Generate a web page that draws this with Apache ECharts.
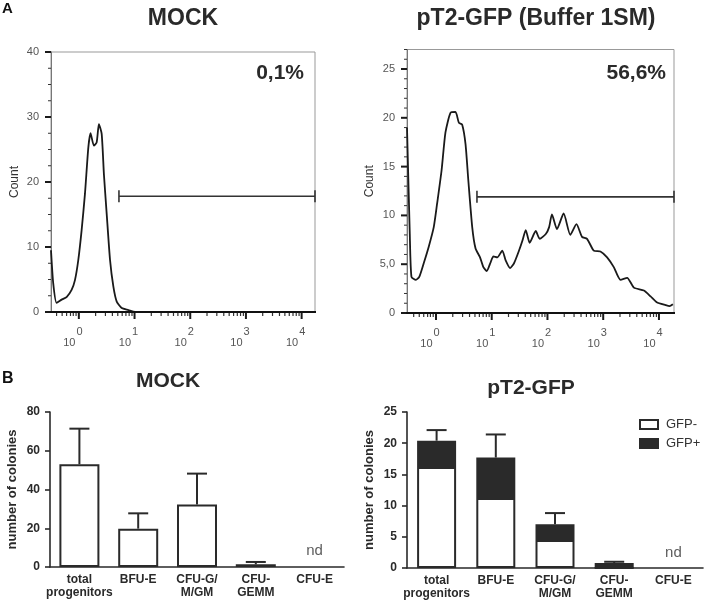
<!DOCTYPE html>
<html>
<head>
<meta charset="utf-8">
<script src="https://cdn.jsdelivr.net/npm/echarts@6/dist/echarts.min.js"></script>
<style>html,body{margin:0;padding:0;background:#fff;}#c{width:708px;height:605px;}</style>
</head>
<body>
<div id="c"></div>
<script>
// ---- Data ----
// Histogram MOCK: [log decade, count]
const mockHist = [
  [-0.50, 9.5], [-0.46, 4.4], [-0.40, 1.4], [-0.31, 1.9], [-0.22, 2.3], [-0.13, 3.4],
  [-0.07, 4.9], [-0.01, 8.0], [0.05, 12.6], [0.11, 18.2], [0.17, 25.3], [0.21, 27.5],
  [0.27, 25.6], [0.32, 26.1], [0.36, 28.9], [0.41, 27.4], [0.45, 21.2], [0.50, 15.1],
  [0.56, 8.0], [0.62, 3.9], [0.68, 1.6], [0.77, 0.6], [0.89, 0.3], [1.01, 0.0], [4.24, 0.0]
];
// Histogram pT2-GFP: [log decade, count]
const gfpHist = [
  [-0.52, 19.0], [-0.47, 8.1], [-0.44, 3.7], [-0.36, 3.4], [-0.30, 3.7], [-0.22, 5.1],
  [-0.13, 6.8], [-0.04, 8.8], [0.02, 11.2], [0.10, 14.6], [0.17, 18.5], [0.26, 20.5],
  [0.35, 20.6], [0.41, 19.5], [0.47, 19.3], [0.53, 17.3], [0.58, 13.6], [0.65, 8.8],
  [0.71, 6.6], [0.79, 5.7], [0.85, 4.7], [0.91, 4.3], [0.98, 5.2], [1.03, 5.8],
  [1.10, 5.7], [1.19, 6.4], [1.25, 5.4], [1.33, 4.6], [1.40, 5.1], [1.49, 6.4],
  [1.55, 7.4], [1.61, 8.5], [1.68, 7.2], [1.79, 8.4], [1.86, 7.6], [1.97, 8.1],
  [2.03, 8.8], [2.08, 10.1], [2.17, 8.6], [2.29, 10.2], [2.41, 8.0], [2.52, 9.1],
  [2.62, 7.8], [2.71, 7.6], [2.83, 6.4], [2.95, 6.3], [3.07, 5.7], [3.19, 4.7],
  [3.31, 3.4], [3.43, 3.6], [3.55, 2.6], [3.73, 2.3], [3.85, 1.7], [3.96, 1.1],
  [4.12, 0.8], [4.19, 0.7], [4.25, 0.9]
];
// Gates: [start decade, end decade, count level]
const mockGate = [0.72, 4.24, 17.8];
const gfpGate = [0.735, 4.27, 11.9];
const mockPct = '0,1%';
const gfpPct = '56,6%';
const decadeTicks = [0, 1, 2, 3, 4];
const mockYTicks = [0, 10, 20, 30, 40];
const gfpYTicks = [0, 5, 10, 15, 20, 25];

// Colony assays
const categories = ['total\nprogenitors', 'BFU-E', 'CFU-G/\nM/GM', 'CFU-\nGEMM', 'CFU-E'];
const mockColonies = [53.0, 19.8, 32.2, 1.4, '-'];
const mockErrTop = [71.4, 27.7, 48.2, 2.6, null];
const gfpNeg = [16.2, 11.2, 4.5, 0, '-'];
const gfpPos = [4.2, 6.5, 2.5, 0.8, '-'];
const gfpErrTop = [22.1, 21.4, 8.8, 1.0, null];
const ndIndex = 4;

// ---- Helpers ----
const FONT = "'Liberation Sans', Arial, Helvetica, sans-serif";

// minor log ticks (positions of 2..9 x 10^n, plus the sub-decade region)
const minorX = [-0.4, -0.3, -0.22, -0.15, -0.1, -0.05];
for (let n = 0; n < 5; n++) for (let k = 2; k <= 9; k++) {
  const v = n + Math.log10(k);
  if (v < 4.23) minorX.push(+v.toFixed(4));
}
const mockMinorY = [];
for (let v = 2.5; v < 40; v += 2.5) if (v % 10) mockMinorY.push(v);
const gfpMinorY = [];
for (let v = 1; v <= 27; v++) if (v % 5) gfpMinorY.push(v);

// tick items: [x, y, kind] kind: 0 x-major, 1 x-minor, 2 y-major, 3 y-minor
function tickData(xMaj, xMin, yMaj, yMin) {
  return [].concat(
    xMaj.map(v => [v, 0, 0]), xMin.map(v => [v, 0, 1]),
    yMaj.map(v => [0, v, 2]), yMin.map(v => [0, v, 3]));
}
function tickRender(params, api) {
  const cs = params.coordSys;
  const kind = api.value(2);
  const bottom = cs.y + cs.height;
  if (kind < 2) {
    const x = api.coord([api.value(0), 0])[0];
    const len = kind === 0 ? 7 : 4;
    return { type: 'line', shape: { x1: x, y1: bottom, x2: x, y2: bottom + len },
      style: { stroke: kind === 0 ? '#1a1a1a' : '#333', lineWidth: kind === 0 ? 2 : 1.2 } };
  }
  const y = api.coord([0, api.value(1)])[1];
  const len = kind === 2 ? 6 : 3;
  return { type: 'line', shape: { x1: cs.x, y1: y, x2: cs.x - len, y2: y },
    style: { stroke: kind === 2 ? '#1a1a1a' : '#333', lineWidth: kind === 2 ? 2 : 1 } };
}
function baseRender(params, api) {
  const cs = params.coordSys;
  const b = cs.y + cs.height;
  return { type: 'line', shape: { x1: cs.x - 1, y1: b, x2: cs.x + cs.width + 1, y2: b },
    style: { stroke: '#111', lineWidth: 2 } };
}

function histXAxis(grid, min, max) {
  return {
    type: 'value', gridIndex: grid, min: min, max: max, position: 'bottom',
    axisLine: { show: true, onZero: false, lineStyle: { color: '#111', width: 2 } },
    axisTick: { show: false },
    axisLabel: {
      show: true, customValues: decadeTicks, margin: 14,
      formatter: v => '{b|10}{s|' + v + '}{sp| }',
      rich: {
        b: { fontSize: 11, fontFamily: FONT, color: '#555', lineHeight: 22, verticalAlign: 'bottom' },
        s: { fontSize: 11, fontFamily: FONT, color: '#555', lineHeight: 11, verticalAlign: 'top', padding: [0, 0, 0, 1] },
        sp: { width: 12, fontSize: 11 }
      }
    },
    splitLine: { show: false }
  };
}
function histYAxis(grid, max, ticks, fmt) {
  return {
    type: 'value', gridIndex: grid, min: 0, max: max, position: 'left',
    name: 'Count', nameLocation: 'middle', nameGap: 30, nameRotate: 90,
    nameTextStyle: { fontSize: 12, fontFamily: FONT, color: '#333' },
    axisLine: { show: true, onZero: false, lineStyle: { color: '#777', width: 1 } },
    axisTick: { show: false },
    axisLabel: { customValues: ticks, margin: 12, fontSize: 11, fontFamily: FONT, color: '#555', formatter: fmt },
    splitLine: { show: false }
  };
}

function gateRender(params, api) {
  const a = api.coord([api.value(0), api.value(2)]);
  const b = api.coord([api.value(1), api.value(2)]);
  const st = { stroke: '#333', lineWidth: 1.6 };
  return {
    type: 'group', children: [
      { type: 'line', shape: { x1: a[0], y1: a[1], x2: b[0], y2: b[1] }, style: st },
      { type: 'line', shape: { x1: a[0], y1: a[1] - 6, x2: a[0], y2: a[1] + 6 }, style: st },
      { type: 'line', shape: { x1: b[0], y1: b[1] - 6, x2: b[0], y2: b[1] + 6 }, style: st }
    ]
  };
}

function errRender(params, api) {
  const lo = api.coord([api.value(0), api.value(1)]);
  const hi = api.coord([api.value(0), api.value(2)]);
  const st = { stroke: '#2a2a2a', lineWidth: 2 };
  return {
    type: 'group', children: [
      { type: 'line', shape: { x1: lo[0], y1: lo[1], x2: hi[0], y2: hi[1] }, style: st },
      { type: 'line', shape: { x1: hi[0] - 10, y1: hi[1], x2: hi[0] + 10, y2: hi[1] }, style: st }
    ]
  };
}

const errMock = mockErrTop.map((t, i) => t == null ? null : [i, mockColonies[i], t]).filter(Boolean);
const errGfp = gfpErrTop.map((t, i) => t == null ? null : [i, gfpNeg[i] + gfpPos[i], t]).filter(Boolean);

function barXAxis(grid) {
  return {
    type: 'category', gridIndex: grid, data: categories, position: 'bottom',
    axisLine: { onZero: false, lineStyle: { color: '#2a2a2a', width: 1.6 } },
    axisTick: { alignWithLabel: true, interval: 0, length: 5, lineStyle: { color: '#2a2a2a', width: 1.6 } },
    axisLabel: { interval: 0, margin: 6, fontSize: 12, fontWeight: 'bold', fontFamily: FONT, color: '#2a2a2a', lineHeight: 13 },
    splitLine: { show: false }
  };
}
function barYAxis(grid, max, interval) {
  return {
    type: 'value', gridIndex: grid, min: 0, max: max, interval: interval, position: 'left',
    name: 'number of colonies', nameLocation: 'middle', nameGap: 31, nameRotate: 90,
    nameTextStyle: { fontSize: 13, fontWeight: 'bold', fontFamily: FONT, color: '#2a2a2a' },
    axisLine: { show: true, onZero: false, lineStyle: { color: '#2a2a2a', width: 1.6 } },
    axisTick: { show: true, length: 5, lineStyle: { color: '#2a2a2a', width: 1.6 } },
    axisLabel: { margin: 10, fontSize: 12, fontWeight: 'bold', fontFamily: FONT, color: '#2a2a2a' },
    splitLine: { show: false }
  };
}

const option = {
  backgroundColor: '#fff',
  animation: false,
  textStyle: { fontFamily: FONT },
  grid: [
    { left: 51, top: 52, width: 264, height: 260, show: true, borderColor: '#999', borderWidth: 1, backgroundColor: 'transparent', outerBoundsMode: 'none' },
    { left: 407, top: 49.5, width: 267, height: 263.5, show: true, borderColor: '#999', borderWidth: 1, backgroundColor: 'transparent', outerBoundsMode: 'none' },
    { left: 50, top: 412, width: 294, height: 155, outerBoundsMode: 'none' },
    { left: 407, top: 412, width: 296, height: 156, outerBoundsMode: 'none' }
  ],
  xAxis: [
    histXAxis(0, -0.5, 4.24),
    histXAxis(1, -0.52, 4.27),
    barXAxis(2),
    barXAxis(3)
  ],
  yAxis: [
    histYAxis(0, 40, mockYTicks, v => String(v)),
    histYAxis(1, 27, gfpYTicks, v => v === 5 ? '5,0' : String(v)),
    barYAxis(2, 80, 20),
    barYAxis(3, 25, 5)
  ],
  legend: {
    orient: 'vertical', left: 639, top: 418, padding: 0, itemWidth: 18, itemHeight: 9, itemGap: 6,
    icon: 'rect', data: ['GFP-', 'GFP+'],
    textStyle: { fontSize: 13, fontFamily: FONT, color: '#333', padding: [0, 0, 0, 3] },
    selectedMode: false
  },
  series: [
    { type: 'custom', xAxisIndex: 0, yAxisIndex: 0, data: tickData(decadeTicks, minorX, mockYTicks, mockMinorY),
      renderItem: tickRender, clip: false, silent: true, z: 6 },
    { type: 'custom', xAxisIndex: 0, yAxisIndex: 0, data: [[0, 0]], renderItem: baseRender, clip: false, silent: true, z: 6 },
    { type: 'line', xAxisIndex: 0, yAxisIndex: 0, data: mockHist, showSymbol: false, smooth: 0.2,
      lineStyle: { color: '#1a1a1a', width: 1.8 }, z: 3 },
    { type: 'custom', xAxisIndex: 0, yAxisIndex: 0, data: [mockGate], renderItem: gateRender, z: 4 },

    { type: 'custom', xAxisIndex: 1, yAxisIndex: 1, data: tickData(decadeTicks, minorX, gfpYTicks, gfpMinorY),
      renderItem: tickRender, clip: false, silent: true, z: 6 },
    { type: 'custom', xAxisIndex: 1, yAxisIndex: 1, data: [[0, 0]], renderItem: baseRender, clip: false, silent: true, z: 6 },
    { type: 'line', xAxisIndex: 1, yAxisIndex: 1, data: gfpHist, showSymbol: false, smooth: 0.2,
      lineStyle: { color: '#1a1a1a', width: 1.8 }, z: 3 },
    { type: 'custom', xAxisIndex: 1, yAxisIndex: 1, data: [gfpGate], renderItem: gateRender, z: 4 },

    { type: 'bar', name: 'MOCK', xAxisIndex: 2, yAxisIndex: 2, data: mockColonies, barWidth: 40,
      itemStyle: { color: '#fff', borderColor: '#2a2a2a', borderWidth: 2 }, z: 3 },
    { type: 'custom', xAxisIndex: 2, yAxisIndex: 2, data: errMock, renderItem: errRender, z: 2 },
    { type: 'scatter', xAxisIndex: 2, yAxisIndex: 2, data: [[ndIndex, 0]], symbolSize: 0,
      label: { show: true, formatter: 'nd', position: 'top', distance: 9, fontSize: 15, fontFamily: FONT, color: '#333' } },

    { type: 'bar', name: 'GFP-', stack: 'g', xAxisIndex: 3, yAxisIndex: 3, data: gfpNeg, barWidth: 39,
      itemStyle: { color: '#fff', borderColor: '#2a2a2a', borderWidth: 2 }, z: 3 },
    { type: 'bar', name: 'GFP+', stack: 'g', xAxisIndex: 3, yAxisIndex: 3, data: gfpPos, barWidth: 39,
      itemStyle: { color: '#2a2a2a', borderColor: '#2a2a2a', borderWidth: 2 }, z: 3 },
    { type: 'custom', xAxisIndex: 3, yAxisIndex: 3, data: errGfp, renderItem: errRender, z: 2 },
    { type: 'scatter', xAxisIndex: 3, yAxisIndex: 3, data: [[ndIndex, 0]], symbolSize: 0,
      label: { show: true, formatter: 'nd', position: 'top', distance: 8, fontSize: 15, fontFamily: FONT, color: '#333' } }
  ],
  graphic: [
    { type: 'text', x: 2, y: 9, style: { text: 'A', font: 'bold 15px ' + FONT, fill: '#111', align: 'left', verticalAlign: 'middle' } },
    { type: 'text', x: 2, y: 379, style: { text: 'B', font: 'bold 16px ' + FONT, fill: '#111', align: 'left', verticalAlign: 'middle' } },
    { type: 'text', x: 183, y: 19, style: { text: 'MOCK', font: 'bold 23px ' + FONT, fill: '#2a2a2a', align: 'center', verticalAlign: 'middle' } },
    { type: 'text', x: 536, y: 19, style: { text: 'pT2-GFP (Buffer 1SM)', font: 'bold 23px ' + FONT, fill: '#2a2a2a', align: 'center', verticalAlign: 'middle' } },
    { type: 'text', x: 168, y: 381, style: { text: 'MOCK', font: 'bold 21px ' + FONT, fill: '#2a2a2a', align: 'center', verticalAlign: 'middle' } },
    { type: 'text', x: 531, y: 388, style: { text: 'pT2-GFP', font: 'bold 21px ' + FONT, fill: '#2a2a2a', align: 'center', verticalAlign: 'middle' } },
    { type: 'text', x: 304, y: 73, style: { text: mockPct, font: 'bold 21px ' + FONT, fill: '#2a2a2a', align: 'right', verticalAlign: 'middle' } },
    { type: 'text', x: 666, y: 73, style: { text: gfpPct, font: 'bold 21px ' + FONT, fill: '#2a2a2a', align: 'right', verticalAlign: 'middle' } }
  ]
};

const chart = echarts.init(document.getElementById('c'), null, { renderer: 'canvas', width: 708, height: 605 });
chart.setOption(option);
</script>
</body>
</html>
